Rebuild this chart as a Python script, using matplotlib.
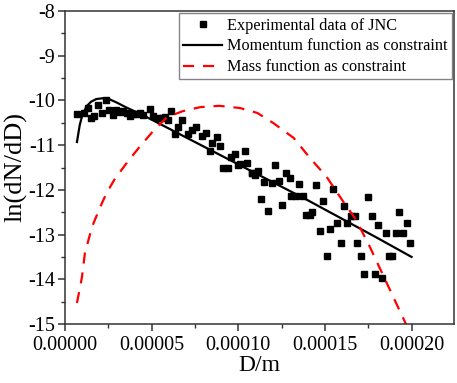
import matplotlib
matplotlib.use("Agg")
import matplotlib.pyplot as plt
from matplotlib.ticker import MultipleLocator, FormatStrFormatter

plt.rcParams['font.family'] = ['Liberation Serif', 'DejaVu Serif']
plt.rcParams['axes.unicode_minus'] = False

# Experimental data (D in m, ln(dN/dD))
exp_x = [7.1e-6, 1.12e-5, 1.31e-5, 1.5e-5, 1.69e-5, 1.92e-5, 2.12e-5, 2.35e-5, 2.54e-5, 2.79e-5,
         2.92e-5, 3.17e-5, 3.37e-5, 3.56e-5, 3.75e-5, 3.94e-5, 4.13e-5, 4.33e-5, 4.52e-5, 4.9e-5,
         5.1e-5, 5.35e-5, 5.58e-5, 5.77e-5, 6.12e-5, 5.96e-5, 6.54e-5, 6.77e-5, 6.35e-5, 7.12e-5,
         7.35e-5, 7.56e-5, 7.88e-5, 8.12e-5, 8.46e-5, 8.75e-5, 8.94e-5, 8.37e-5, 9.1e-5, 9.4e-5,
         9.6e-5, 9.8e-5, 1.0e-4, 1.04e-4, 1.05e-4, 1.08e-4,
         1.01e-4, 1.077e-4, 1.096e-4, 1.115e-4, 1.148e-4, 1.134e-4, 1.173e-4, 1.192e-4, 1.211e-4,
         1.236e-4, 1.255e-4, 1.274e-4, 1.298e-4, 1.307e-4, 1.332e-4, 1.352e-4, 1.371e-4, 1.39e-4,
         1.413e-4, 1.428e-4, 1.448e-4, 1.471e-4, 1.49e-4, 1.51e-4, 1.529e-4, 1.548e-4, 1.571e-4,
         1.59e-4, 1.61e-4, 1.629e-4, 1.648e-4, 1.673e-4, 1.683e-4, 1.706e-4, 1.725e-4, 1.746e-4,
         1.769e-4, 1.788e-4, 1.808e-4, 1.827e-4, 1.850e-4, 1.869e-4, 1.89e-4, 1.91e-4, 1.929e-4,
         1.948e-4, 1.971e-4, 1.99e-4]
exp_y = [-10.31, -10.29, -10.16, -10.40, -10.34, -10.10, -10.27, -9.99, -10.21, -10.33,
         -10.21, -10.25, -10.24, -10.27, -10.34, -10.31, -10.31, -10.29, -10.32, -10.19,
         -10.34, -10.40, -10.40, -10.36, -10.24, -10.44, -10.59, -10.44, -10.74, -10.74,
         -10.66, -10.59, -10.79, -10.72, -10.96, -10.81, -11.03, -11.13, -11.50, -11.50,
         -11.26, -11.20, -11.44, -11.13, -11.41, -11.63,
         -11.42, -11.62, -11.67, -11.57, -11.82, -12.21, -12.47, -11.85, -11.44,
         -11.81, -12.34, -11.62, -11.74, -12.14, -12.14, -11.87, -12.14, -12.56,
         -12.56, -12.49, -11.89, -12.92, -12.24, -13.48, -12.88, -11.97, -12.75,
         -13.18, -12.36, -12.74, -12.59, -12.59, -13.18, -13.48, -13.88, -12.15,
         -12.59, -13.88, -12.79, -13.98, -12.97, -13.48, -13.48, -12.97, -12.49,
         -12.97, -12.75, -13.18]

# Momentum function as constraint
mom_x = [6.9e-6, 8.5e-6, 1.0e-5, 1.25e-5, 1.5e-5, 1.8e-5, 2.2e-5, 2.6e-5, 3.0e-5, 3.5e-5,
         4.0e-5, 4.5e-5, 5.0e-5, 6.0e-5, 8.0e-5, 1.0e-4, 1.2e-4, 1.4e-4, 1.6e-4, 1.8e-4, 2.0e-4]
mom_y = [-10.93, -10.55, -10.33, -10.13, -10.03, -9.97, -9.95, -9.98, -10.05, -10.15,
         -10.24, -10.33, -10.43, -10.63, -11.03, -11.43, -11.83, -12.23, -12.65, -13.07, -13.50]

# Mass function as constraint
mass_x = [6.9e-6, 9.8e-6, 1.15e-5, 1.56e-5, 2.0e-5, 2.4e-5, 2.9e-5, 3.6e-5, 4.3e-5, 5.1e-5,
          5.9e-5, 6.8e-5, 7.8e-5, 8.9e-5, 1.01e-4, 1.11e-4, 1.2e-4, 1.32e-4, 1.41e-4, 1.51e-4,
          1.6e-4, 1.68e-4, 1.76e-4, 1.83e-4, 1.93e-4, 1.97e-4]
mass_y = [-14.53, -13.95, -13.41, -12.83, -12.41, -12.07, -11.74, -11.38, -11.04, -10.68,
          -10.37, -10.24, -10.15, -10.12, -10.17, -10.28, -10.50, -10.84, -11.27, -11.71,
          -12.23, -12.67, -13.28, -13.86, -14.69, -15.02]

fig = plt.figure(figsize=(4.57, 3.83), dpi=100)
ax = fig.add_axes([65/457, 59/383, 389/457, 313/383])

ax.plot(exp_x, exp_y, 's', color='black', markersize=5, label='Experimental data of JNC', clip_on=False)
ax.plot(mom_x, mom_y, '-', color='black', linewidth=1.6, label='Momentum function as constraint')
ax.plot(mass_x, mass_y, '--', color='#ff0000', linewidth=1.6, dashes=(5, 4), label='Mass function as constraint')

ax.set_xlim(0, 0.0002245)
ax.set_ylim(-15, -8)
ax.xaxis.set_major_locator(MultipleLocator(0.00005))
ax.xaxis.set_minor_locator(MultipleLocator(0.000025))
ax.xaxis.set_major_formatter(FormatStrFormatter('%.5f'))
ax.yaxis.set_major_locator(MultipleLocator(1))
ax.yaxis.set_minor_locator(MultipleLocator(0.5))

for s in ax.spines.values():
    s.set_linewidth(1.1)
    s.set_color('#333333')
ax.tick_params(which='both', direction='out', top=False, right=False, labelsize=14.5, colors='#333333', labelcolor='black')
ax.tick_params(which='major', length=5, width=1.1)
ax.tick_params(which='minor', length=3, width=1.0)
ax.tick_params(axis='y', which='major', pad=2)

ax.set_xlabel('D/m', fontsize=17, labelpad=0)
ax.set_ylabel('ln(dN/dD)', fontsize=19)
ax.yaxis.set_label_coords(-38/389, 0.5)

leg = ax.legend(loc='upper right', fontsize=11.7, frameon=True, fancybox=False,
                edgecolor='#666666', handlelength=2.4, handletextpad=0.3,
                borderpad=0.25, labelspacing=0.3, borderaxespad=0.15, markerscale=0.9)
leg.get_frame().set_linewidth(1.0)

fig.savefig('out.png', dpi=100)
